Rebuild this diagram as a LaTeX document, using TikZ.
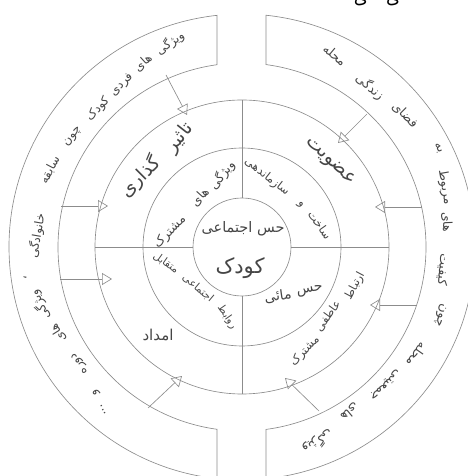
\documentclass[tikz,border=0pt]{standalone}
\usepackage{fontspec}
\usetikzlibrary{arrows.meta,calc}
\newfontfamily\fa[Script=Arabic]{DejaVu Sans}
\TeXXeTstate=1
\definecolor{lg}{HTML}{8C8C8C}
\definecolor{tx}{HTML}{454545}
\tikzset{
  ln/.style={draw=lg, line width=0.65pt},
  arr/.style={draw=lg, line width=0.65pt, -{Triangle[open, length=10pt, width=12pt]}},
  w/.style={inner sep=0pt, text=tx, font={\fa\fontsize{#1}{#1}\selectfont}},
}
\begin{document}
\begin{tikzpicture}[x=1pt,y=1pt]
\useasboundingbox (0,0) rectangle (467,476);
\coordinate (C) at (242,229);
% cut-off title at the top edge
\node[inner sep=0pt, anchor=south, font={\fa\fontsize{18}{18}\selectfont}] (title) at (377,470) {\beginR ی\quad ی\endR};
% rings
\draw[ln] (C) circle[radius=49];
\draw[ln] (C) circle[radius=99];
\draw[ln] (C) circle[radius=147];
\foreach \a in {0,90,180,270}{
  \draw[ln] ([shift={(\a:49)}]C) -- ([shift={(\a:147)}]C);
}
% outer bands
\draw[ln] ([shift={(96.16:233)}]C) arc[start angle=96.16,end angle=263.84,radius=233]
  -- ([shift={(262.19:184)}]C) arc[start angle=262.19,end angle=97.81,radius=184] -- cycle;
\draw[ln] ([shift={(84.09:233)}]C) arc[start angle=84.09,end angle=-84.09,radius=233]
  -- ([shift={(-82.51:184)}]C) arc[start angle=-82.51,end angle=82.51,radius=184] -- cycle;
% arrows
\coordinate (a1s) at (166,401); \coordinate (a1e) at (187,361);
\coordinate (a2s) at (61,270);  \coordinate (a2e) at (108,270);
\coordinate (a3s) at (60,197);  \coordinate (a3e) at (112,197);
\coordinate (a4s) at (148,68);  \coordinate (a4e) at (182,100);
\coordinate (a5s) at (367,362); \coordinate (a5e) at (338,333);
\coordinate (a6s) at (422,269); \coordinate (a6e) at (375,269);
\coordinate (a7s) at (417,171); \coordinate (a7e) at (370,171);
\coordinate (a8s) at (319,65);  \coordinate (a8e) at (285,98);
\foreach \i in {1,...,8}{ \draw[arr] (a\i s) -- (a\i e); }
% inner circle
\node[w=14.5] (t1) at (243,247) {\beginR حس اجتماعی\endR};
\node[w=21] (t2) at (240,208) {\beginR کودک\endR};
% second ring
\node[w=12.5, rotate=52] (s1) at (222,301) {\beginR ویژگی\endR};
\node[w=12.5, rotate=48] (s2) at (200,279) {\beginR های\endR};
\node[w=12.5, rotate=45] (s3) at (170,244) {\beginR مشترک\endR};
\node[w=11.5, rotate=-38] (s4) at (267,299) {\beginR سازماندهی\endR};
\node[w=11.5, rotate=-45] (s5) at (300,271) {\beginR و\endR};
\node[w=11.5, rotate=-55] (s6) at (320,251) {\beginR ساخت\endR};
\node[w=10.5, rotate=-35] (s7) at (166,213) {\beginR متقابل\endR};
\node[w=10.5, rotate=-40] (s8) at (198,188) {\beginR اجتماعی\endR};
\node[w=10.5, rotate=-55] (s9) at (227,159) {\beginR روابط\endR};
\node[w=14, rotate=10] (s10) at (310,185) {\beginR حس\endR};
\node[w=14, rotate=8] (s11) at (278,180) {\beginR مائی\endR};
% third ring
\node[w=19, rotate=52] (r1) at (180,338) {\beginR تاثیر\endR};
\node[w=19, rotate=45] (r2) at (140,299) {\beginR گذاری\endR};
\node[w=19, rotate=-43] (r3) at (330,314) {\beginR عضویت\endR};
\node[w=15] (r4) at (158,141) {\beginR امداد\endR};
\node[w=11.5, rotate=62] (r5) at (355,190) {\beginR ارتباط\endR};
\node[w=11.5, rotate=54] (r6) at (328,160) {\beginR عاطفی\endR};
\node[w=11.5, rotate=46] (r7) at (305,125) {\beginR مشترک\endR};
% outer left band
\node[w=12, rotate=36] (l1) at (170,433) {\beginR ویژگی\endR};
\node[w=12, rotate=42] (l2) at (143,413) {\beginR های\endR};
\node[w=12, rotate=45] (l3) at (122,391) {\beginR فردی\endR};
\node[w=12, rotate=47] (l4) at (98,367) {\beginR کودک\endR};
\node[w=12, rotate=52] (l5) at (73,339) {\beginR چون\endR};
\node[w=12, rotate=62] (l6) at (50,306) {\beginR سابقه\endR};
\node[w=12, rotate=80] (l7) at (37,240) {\beginR خانوادگی\endR};
\node[w=12, rotate=95] (l8) at (25,198) {\beginR ،\endR};
\node[w=12, rotate=115] (l9) at (40,171) {\beginR ویژگی\endR};
\node[w=12, rotate=122] (l10) at (58,143) {\beginR های\endR};
\node[w=12, rotate=124] (l11) at (80,113) {\beginR دوره\endR};
\node[w=12, rotate=122] (l12) at (96,84) {\beginR و\endR};
\node[w=12, rotate=115] (l13) at (103,66) {...};
% outer right band
\node[w=12.5, rotate=-40] (q1) at (335,421) {\beginR محله\endR};
\node[w=12.5, rotate=-40] (q2) at (370,389) {\beginR زندگی\endR};
\node[w=12.5, rotate=-45] (q3) at (405,361) {\beginR فضای\endR};
\node[w=12.5, rotate=-62] (q4) at (438,328) {\beginR به\endR};
\node[w=12.5, rotate=-80] (q5) at (445,289) {\beginR مربوط\endR};
\node[w=12.5, rotate=-88] (q6) at (447,254) {\beginR های\endR};
\node[w=12.5, rotate=-95] (q7) at (443,206) {\beginR کیفیت\endR};
\node[w=12.5, rotate=-105] (q8) at (440,161) {\beginR چون\endR};
\node[w=12.5, rotate=-125] (q9) at (417,121) {\beginR محله\endR};
\node[w=12.5, rotate=-135] (q10) at (385,91) {\beginR جمعیتی\endR};
\node[w=12.5, rotate=-140] (q11) at (350,64) {\beginR های\endR};
\node[w=12.5, rotate=-148] (q12) at (318,34) {\beginR ویژگی\endR};
\end{tikzpicture}
\end{document}
